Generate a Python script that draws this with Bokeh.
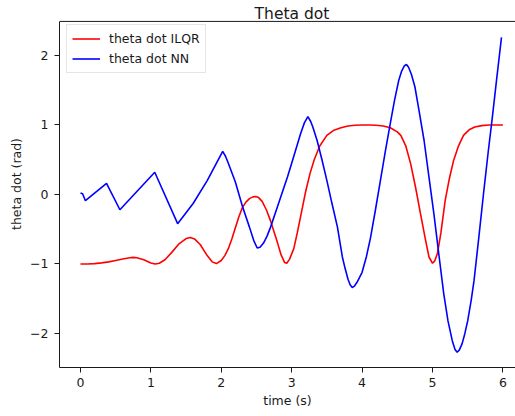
from bokeh.plotting import figure
from bokeh.models import (Range1d, FixedTicker, Legend, LegendItem, Label, Span)
from bokeh.embed import file_html
from bokeh.resources import INLINE

# ---------------- data ----------------
t_ilqr = [0.0, 0.1, 0.2, 0.3, 0.4, 0.5, 0.6, 0.7, 0.75, 0.8, 0.9, 1.0, 1.06, 1.12,
          1.2, 1.3, 1.4, 1.5, 1.56, 1.62, 1.7, 1.8, 1.87, 1.93, 2.0, 2.05, 2.1, 2.15,
          2.2, 2.25, 2.3, 2.35, 2.4, 2.45, 2.49, 2.53, 2.58, 2.64, 2.7, 2.75, 2.8,
          2.85, 2.9, 2.93, 2.97, 3.03, 3.08, 3.14, 3.2, 3.26, 3.32, 3.4, 3.5, 3.6,
          3.7, 3.8, 3.9, 4.0, 4.1, 4.2, 4.3, 4.4, 4.5, 4.55, 4.62, 4.69, 4.76, 4.83,
          4.9, 4.95, 5.0, 5.03, 5.07, 5.12, 5.18, 5.24, 5.3, 5.37, 5.44, 5.52, 5.6,
          5.7, 5.8, 5.9, 6.0]
theta_dot_ilqr = [-1.0, -1.0, -0.995, -0.985, -0.97, -0.95, -0.93, -0.91, -0.905, -0.91,
                  -0.94, -0.985, -1.0, -0.99, -0.94, -0.83, -0.71, -0.635, -0.62, -0.64,
                  -0.72, -0.88, -0.97, -0.995, -0.95, -0.88, -0.78, -0.64, -0.48, -0.32,
                  -0.19, -0.11, -0.06, -0.035, -0.03, -0.045, -0.10, -0.22, -0.38, -0.54,
                  -0.70, -0.87, -0.98, -0.99, -0.93, -0.78, -0.55, -0.25, 0.05, 0.30,
                  0.50, 0.70, 0.85, 0.925, 0.96, 0.985, 0.995, 1.0, 1.0, 0.995, 0.985,
                  0.96, 0.90, 0.85, 0.70, 0.44, 0.10, -0.28, -0.65, -0.90, -0.99, -0.96,
                  -0.85, -0.55, -0.09, 0.23, 0.49, 0.70, 0.85, 0.93, 0.97, 0.99, 1.0,
                  1.0, 1.0]

t_nn = [0.0, 0.03, 0.07, 0.37, 0.56, 1.055, 1.38, 1.6, 1.8, 2.02, 2.06, 2.1, 2.2, 2.3,
        2.4, 2.46, 2.51, 2.55, 2.6, 2.65, 2.7, 2.8, 2.94, 3.0, 3.06, 3.125, 3.18, 3.23,
        3.27, 3.3, 3.36, 3.43, 3.5, 3.57, 3.65, 3.72, 3.76, 3.8, 3.83, 3.86, 3.89,
        3.93, 4.0, 4.06, 4.12, 4.19, 4.26, 4.33, 4.4, 4.46, 4.52, 4.56, 4.6, 4.63,
        4.66, 4.7, 4.75, 4.81, 4.88, 4.95, 5.02, 5.09, 5.16, 5.22, 5.28, 5.32, 5.35,
        5.38, 5.42, 5.46, 5.5, 5.55, 5.59, 5.66, 5.73, 5.79, 5.85, 5.91, 5.98]
theta_dot_nn = [0.02, 0.01, -0.09, 0.16, -0.22, 0.32, -0.42, -0.13, 0.2, 0.62, 0.55,
                0.45, 0.18, -0.17, -0.47, -0.66, -0.77, -0.76, -0.70, -0.60, -0.47,
                -0.17, 0.25, 0.45, 0.65, 0.87, 1.03, 1.12, 1.05, 0.97, 0.78, 0.50,
                0.20, -0.12, -0.47, -0.90, -1.07, -1.22, -1.30, -1.34, -1.32, -1.26,
                -1.12, -0.90, -0.62, -0.22, 0.20, 0.62, 1.02, 1.35, 1.64, 1.77, 1.85,
                1.87, 1.83, 1.73, 1.55, 1.20, 0.78, 0.25, -0.28, -0.86, -1.43, -1.82,
                -2.10, -2.23, -2.27, -2.24, -2.15, -2.0, -1.82, -1.52, -1.24, -0.60,
                0.06, 0.60, 1.11, 1.65, 2.26]

x_ticks = [0, 1, 2, 3, 4, 5, 6]
y_ticks = [-2, -1, 0, 1, 2]
y_tick_labels = {-2: "\u22122", -1: "\u22121", 0: "0", 1: "1", 2: "2"}

FONT = "DejaVu Sans"
TICK_PX = "12.5px"
Y_MIN, Y_MAX = -2.49, 2.49      # visible axes box
Y_TOP = 2.791                    # frame extended upwards to hold the title
FRAME_H = 416 - 49

p = figure(width=515, height=416, output_backend="svg", toolbar_location=None,
           x_range=Range1d(-0.298, 6.179), y_range=Range1d(Y_MIN, Y_TOP),
           min_border_left=59, min_border_right=0, min_border_top=0,
           min_border_bottom=49)
p.outline_line_color = None
p.xgrid.visible = False
p.ygrid.visible = False
p.background_fill_color = "white"
p.border_fill_color = "white"

r_ilqr = p.line(t_ilqr, theta_dot_ilqr, line_color="#ff0000", line_width=1.6)
r_nn = p.line(t_nn, theta_dot_nn, line_color="#0000ff", line_width=1.6)

for ax in (p.xaxis[0], p.yaxis[0]):
    ax.axis_line_color = "#1a1a1a"
    ax.axis_line_width = 1
    ax.major_tick_line_color = "#1a1a1a"
    ax.major_tick_out = 5
    ax.major_tick_in = 0
    ax.minor_tick_line_color = None
    ax.major_label_text_font = FONT
    ax.major_label_text_font_size = TICK_PX
    ax.major_label_text_color = "#1a1a1a"
    ax.axis_label_text_font = FONT
    ax.axis_label_text_font_size = TICK_PX
    ax.axis_label_text_font_style = "normal"
    ax.axis_label_text_color = "#1a1a1a"

p.xaxis.ticker = FixedTicker(ticks=x_ticks)
p.yaxis.ticker = FixedTicker(ticks=y_ticks)
p.yaxis.bounds = (Y_MIN, Y_MAX)
p.yaxis.major_label_overrides = y_tick_labels
p.xaxis.axis_label = "time (s)"
p.yaxis.axis_label = "theta dot (rad)"
p.xaxis.major_label_standoff = 5
p.yaxis.major_label_standoff = 6
p.xaxis.axis_label_standoff = 3
p.yaxis.axis_label_standoff = 3

# top spine of the axes box
p.add_layout(Span(location=Y_MAX, dimension="width", line_color="#1a1a1a",
                  line_width=1))

# title, centred over the (matplotlib-style) axes box
p.add_layout(Label(x=3.004, y=2.60, text="Theta dot", text_align="center",
                   text_baseline="alphabetic", text_font=FONT,
                   text_font_size="15.5px", text_color="#1a1a1a"))

legend = Legend(items=[LegendItem(label="theta dot ILQR", renderers=[r_ilqr]),
                       LegendItem(label="theta dot NN", renderers=[r_nn])],
                location=(7, FRAME_H - 72.5), padding=5, spacing=3,
                glyph_width=28, glyph_height=17, label_height=17,
                label_standoff=9, label_text_font=FONT,
                label_text_font_size="12.5px", label_text_color="#1a1a1a",
                border_line_color="#cccccc", border_line_width=1,
                background_fill_color="white", background_fill_alpha=0.8)
p.add_layout(legend, "center")

open("out.html", "w").write(file_html(p, INLINE))
